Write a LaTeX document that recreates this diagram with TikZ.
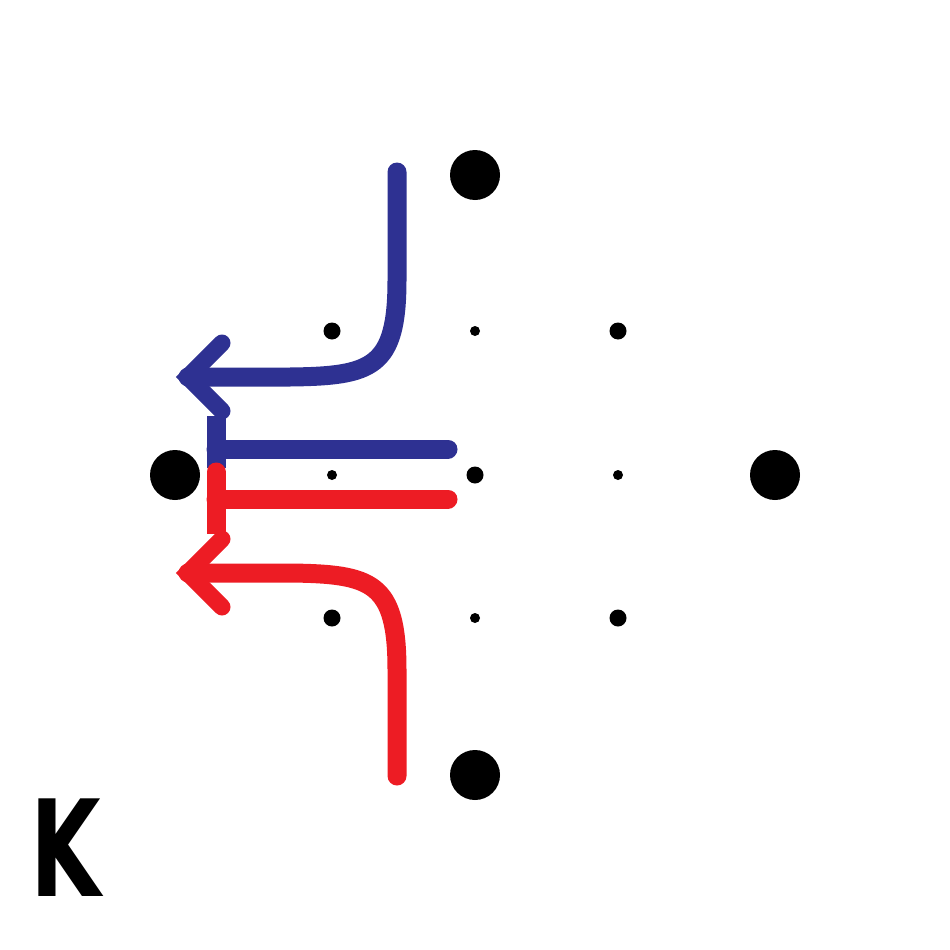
\documentclass[tikz,border=0pt]{standalone}
\usepackage{fontspec}
\setmainfont{DejaVu Sans}
\definecolor{arrblue}{HTML}{2E3192}
\definecolor{arrred}{HTML}{ED1C24}
\begin{document}
\begin{tikzpicture}[x=1pt,y=-1pt,
  bigdot/.style={circle,fill=black,inner sep=0pt,minimum size=50pt},
  middot/.style={circle,fill=black,inner sep=0pt,minimum size=17pt},
  smalldot/.style={circle,fill=black,inner sep=0pt,minimum size=10pt},
  flow/.style={line width=19pt,line cap=round},
  chevron/.style={line width=17pt,line cap=round,line join=miter}]
\useasboundingbox (0,0) rectangle (950,950);
% dots
\node[bigdot] (t) at (475,175) {};
\node[bigdot] (l) at (175,475) {};
\node[bigdot] (r) at (775,475) {};
\node[bigdot] (b) at (475,775) {};
\node[middot] (m1) at (332,331) {};
\node[middot] (m2) at (618,331) {};
\node[middot] (m3) at (475,475) {};
\node[middot] (m4) at (332,618) {};
\node[middot] (m5) at (618,618) {};
\node[smalldot] (s1) at (475,331) {};
\node[smalldot] (s2) at (332,475) {};
\node[smalldot] (s3) at (618,475) {};
\node[smalldot] (s4) at (475,618) {};
% coordinates
\coordinate (bstart) at (397,172);
\coordinate (bapex) at (188,377);
\coordinate (rstart) at (397,776);
\coordinate (rapex) at (188,573);
% blue curved arrow
\draw[flow,arrblue] (bstart) -- (397,280) .. controls (397,368) and (372,376) .. (290,377) -- (bapex);
\draw[chevron,arrblue] (222,343) -- (bapex) -- (222,411);
% blue T
\draw[line width=19pt,arrblue] (216,416) -- (216,468);
\draw[flow,arrblue] (216,449) -- (448,449);
% red T
\draw[line width=19pt,arrred] (216,510) -- (216,534);
\draw[flow,arrred] (216,472) -- (216,515);
\draw[flow,arrred] (216,499) -- (448,499);
% red curved arrow
\draw[flow,arrred] (rstart) -- (397,670) .. controls (397,582) and (372,574) .. (290,573) -- (rapex);
\draw[chevron,arrred] (222,539) -- (rapex) -- (222,607);
% label
\node[anchor=base,inner sep=0pt,font=\fontsize{134}{134}\selectfont\bfseries] (k) at (66,896) {\scalebox{0.68}[1]{K}};
\end{tikzpicture}
\end{document}
